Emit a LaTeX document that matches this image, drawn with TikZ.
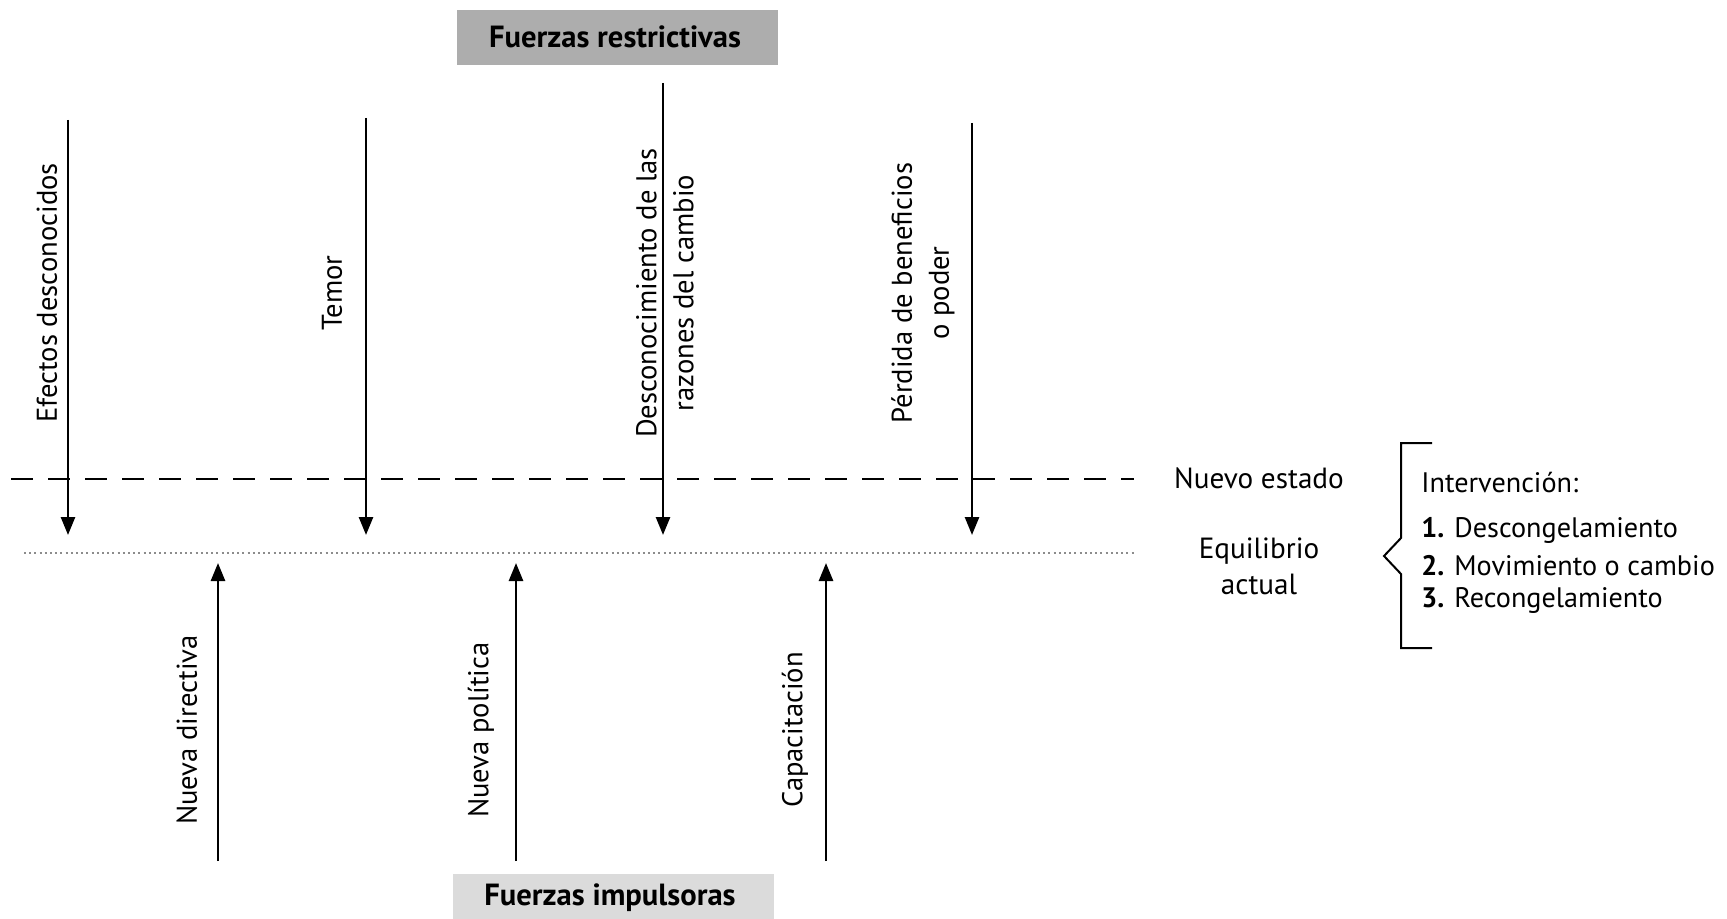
\documentclass[tikz,border=0pt]{standalone}
\usepackage{fontspec}
\setmainfont{PT Sans}
\usetikzlibrary{arrows.meta}
\begin{document}
\begin{tikzpicture}[x=0.5pt,y=-0.5pt,
  force/.style={line width=1.3pt,-{Triangle[length=9pt,width=7pt]}},
  lbl/.style={rotate=90,align=center,font=\fontsize{14.3pt}{18.5pt}\selectfont,inner sep=0pt},
  side/.style={font=\fontsize{14.6pt}{18pt}\selectfont,align=center,inner sep=0pt},
  item/.style={anchor=west,font=\fontsize{14.1pt}{16pt}\selectfont,inner sep=0pt},
  banner/.style={font=\fontsize{15.3pt}{17pt}\selectfont\bfseries,inner sep=0pt}]
\useasboundingbox (0,0) rectangle (1727,919);

% header and footer banners
\fill[black!32] (457,10) rectangle (778,65);
\node[banner] (restr) at (615,37) {Fuerzas restrictivas};
\fill[black!14] (453,874) rectangle (774,919);
\node[banner] (impul) at (610,898) {Fuerzas impulsoras};

% new state (dashed) and current equilibrium (dotted)
\coordinate (nsL) at (11,479);   \coordinate (nsR) at (1134,479);
\coordinate (eqL) at (24,553);   \coordinate (eqR) at (1134,553);
\draw[line width=1pt,dash pattern=on 11pt off 7.5pt] (nsL) -- (nsR);
\draw[black!45,line width=0.6pt,dash pattern=on 1pt off 1.6pt] (eqL) -- (eqR);

% restraining forces
\coordinate (r1a) at (68,120);  \coordinate (r1b) at (68,535);
\coordinate (r2a) at (366,118); \coordinate (r2b) at (366,535);
\coordinate (r3a) at (663,83);  \coordinate (r3b) at (663,535);
\coordinate (r4a) at (972,123); \coordinate (r4b) at (972,535);
\draw[force] (r1a) -- (r1b);
\draw[force] (r2a) -- (r2b);
\draw[force] (r3a) -- (r3b);
\draw[force] (r4a) -- (r4b);
\node[lbl] (t1) at (47,293) {Efectos desconocidos};
\node[lbl] (t2) at (332,293) {Temor};
\node[lbl] (t3) at (665,293) {Desconocimiento de las\\razones del cambio};
\node[lbl] (t4) at (923,293) {Pérdida de beneficios\\o poder};

% driving forces
\coordinate (d1a) at (218,861); \coordinate (d1b) at (218,563);
\coordinate (d2a) at (516,861); \coordinate (d2b) at (516,563);
\coordinate (d3a) at (826,861); \coordinate (d3b) at (826,563);
\draw[force] (d1a) -- (d1b);
\draw[force] (d2a) -- (d2b);
\draw[force] (d3a) -- (d3b);
\node[lbl] (b1) at (187,730) {Nueva directiva};
\node[lbl] (b2) at (481,730) {Nueva política};
\node[lbl] (b3) at (795,730) {Capacitación};

% state labels
\node[side] (nuevo) at (1259,478) {Nuevo estado};
\node[side] (equil) at (1259,566) {Equilibrio\\actual};

% intervention bracket and steps
\draw[line width=1pt] (1432,443) -- (1401,443) -- (1401,538) -- (1384,556)
  -- (1401,574) -- (1401,648) -- (1432,648);
\node[item] (iv)  at (1421,483) {Intervención:};
\node[item] (iv1) at (1421,530) {\textbf{1.} Descongelamiento};
\node[item] (iv2) at (1421,566) {\textbf{2.} Movimiento o cambio};
\node[item] (iv3) at (1421,601) {\textbf{3.} Recongelamiento};
\end{tikzpicture}
\end{document}
